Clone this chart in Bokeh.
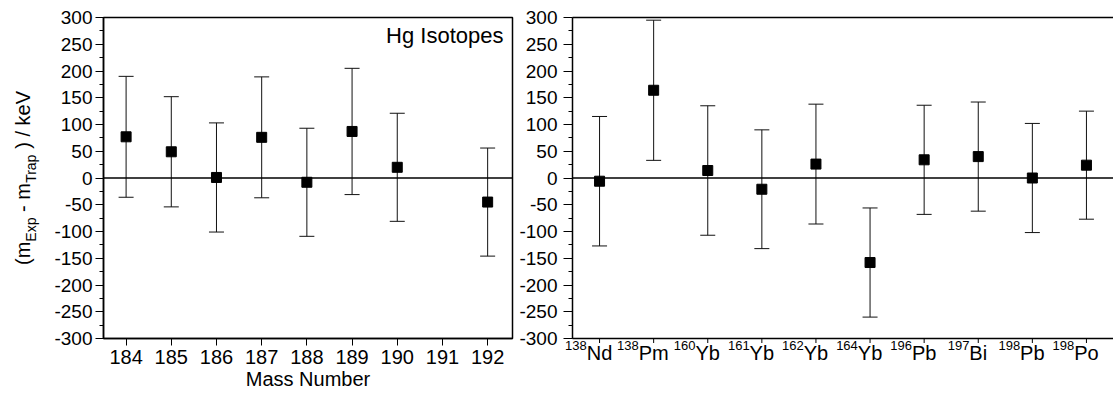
import math
from bokeh.plotting import figure
from bokeh.layouts import row
from bokeh.models import (ColumnDataSource, Whisker, TeeHead, Span, Label,
                          Range1d, LinearAxis, FixedTicker, SingleIntervalTicker)
from bokeh.core.properties import value
from bokeh.embed import file_html
from bokeh.resources import INLINE

# ---------------- data ----------------
# Left panel: Hg isotopes
hg_mass = [184, 185, 186, 187, 188, 189, 190, 192]
hg_delta = [77, 49, 1, 76, -8, 87, 20, -45]
hg_err = [113, 103, 102, 113, 101, 118, 101, 101]
mass_ticks = [184, 185, 186, 187, 188, 189, 190, 191, 192]

# Right panel: other isotopes
iso_mass = ["138", "138", "160", "161", "162", "164", "196", "197", "198", "198"]
iso_symbol = ["Nd", "Pm", "Yb", "Yb", "Yb", "Yb", "Pb", "Bi", "Pb", "Po"]
iso_delta = [-6, 164, 14, -21, 26, -158, 34, 40, 0, 24]
iso_err = [121, 131, 121, 111, 112, 102, 102, 102, 102, 101]

y_min, y_max, y_step = -300, 300, 50
y_ticks = list(range(y_min, y_max + 1, y_step))

y_label_parts = [("(m", False), ("Exp", True), (" - m", False), ("Trap", True), (" ) / keV", False)]
x_label_left = "Mass Number"
panel_title = "Hg Isotopes"

# ---------------- style ----------------
FONT = "Liberation Sans"
YTICK_FS = 19
XTICK_FS = 20
LABEL_FS = 20
SUB_FS = 14
SYM_FS = 20
SUP_FS = 13
W = {' ': 278, '(': 333, ')': 333, '-': 333, '/': 278, 'm': 833, 'E': 667, 'x': 500,
     'p': 556, 'T': 611, 'r': 333, 'a': 556, 'k': 500, 'e': 556, 'V': 667, 'N': 722,
     'd': 556, 'P': 667, 'Y': 667, 'b': 556, 'B': 667, 'i': 222, 'o': 556}


def tw(s, size):
    return sum(W.get(c, 556) for c in s) * size / 1000.0


H = 393
TOP, BOTTOM = 17, 55
FRAME_H = H - TOP - BOTTOM          # 321 px for the -300..300 span
PX_PER_Y = FRAME_H / (y_max - y_min)
YLAB_W = 50
W1 = 516 - YLAB_W
W2 = 1113 - 516


def style_axis(ax, tick_out, minor_out=0, standoff=3, fs=YTICK_FS, tick_in=0, minor_in=0):
    ax.axis_line_color = "black"
    ax.axis_line_width = 1.5
    ax.major_tick_line_color = "black"
    ax.minor_tick_line_color = "black"
    ax.major_tick_line_width = 1
    ax.minor_tick_line_width = 1
    ax.major_tick_in = tick_in
    ax.major_tick_out = tick_out
    ax.minor_tick_in = minor_in
    ax.minor_tick_out = minor_out
    ax.major_label_text_font = FONT
    ax.major_label_text_font_size = f"{fs}px"
    ax.major_label_text_color = "black"
    ax.major_label_standoff = standoff


def set_yticks(ax):
    ax.ticker = SingleIntervalTicker(interval=y_step, num_minor_ticks=2)
    ax.major_label_overrides = {v: str(v) for v in y_ticks}


def add_errorbars(p, xs, ys, errs):
    src = ColumnDataSource(dict(x=xs, y=ys,
                                upper=[v + e for v, e in zip(ys, errs)],
                                lower=[v - e for v, e in zip(ys, errs)]))
    w = Whisker(base="x", upper="upper", lower="lower", source=src,
                line_color="#111111", line_width=1,
                upper_head=TeeHead(size=15, line_color="#111111", line_width=1),
                lower_head=TeeHead(size=15, line_color="#111111", line_width=1))
    p.add_layout(w)
    p.scatter("x", "y", source=src, marker="square", size=10, color="black")


def bare(p):
    p.grid.visible = False
    p.outline_line_color = None
    p.background_fill_color = "white"
    p.border_fill_color = "white"
    p.frame_align = False


# ---------------- y-axis title strip ----------------
ylab = figure(width=YLAB_W, height=H, x_range=Range1d(0, YLAB_W), y_range=Range1d(0, H),
              output_backend="svg", toolbar_location=None, x_axis_location=None,
              y_axis_location=None, min_border=0)
bare(ylab)
px, py, pt, pfs = [], [], [], []
total = sum(tw(t, SUB_FS if sub else LABEL_FS) for t, sub in y_label_parts)
start = (H - TOP - FRAME_H / 2) - total / 2
for t, sub in y_label_parts:
    fs = SUB_FS if sub else LABEL_FS
    lead = len(t) - len(t.lstrip(" "))
    core = t.strip(" ")
    c_start = start + tw(" " * lead, fs)
    px.append((35 - 0.3 * fs) if sub else (28 - 0.3 * fs))
    py.append(c_start + tw(core, fs) / 2)
    pt.append(core)
    pfs.append(f"{fs}px")
    start += tw(t, fs)
ylab.text(x=px, y=py, text=pt, angle=math.pi / 2, text_align="center",
          text_baseline="middle", text_font=value(FONT), text_font_size=pfs,
          text_color="black")

# ---------------- left panel ----------------
p1 = figure(width=W1, height=H, x_range=Range1d(183.5, 192.55), y_range=Range1d(y_min, y_max),
            output_backend="svg", toolbar_location=None,
            min_border_left=103 - YLAB_W, min_border_right=4, min_border_top=TOP,
            min_border_bottom=BOTTOM)
bare(p1)
p1.outline_line_color = "black"
p1.outline_line_width = 1.5

style_axis(p1.yaxis[0], 8, 4, 3)
set_yticks(p1.yaxis[0])
style_axis(p1.xaxis[0], 7, 0, 4, XTICK_FS)
p1.xaxis[0].ticker = FixedTicker(ticks=mass_ticks, minor_ticks=[])
p1.xaxis[0].axis_label = x_label_left
p1.xaxis[0].axis_label_text_font = FONT
p1.xaxis[0].axis_label_text_font_size = f"{LABEL_FS}px"
p1.xaxis[0].axis_label_text_font_style = "normal"
p1.xaxis[0].axis_label_text_color = "black"
p1.xaxis[0].axis_label_standoff = 1

p1.add_layout(Span(location=0, dimension="width", line_color="black", line_width=1.5))
add_errorbars(p1, hg_mass, hg_delta, hg_err)

frame_w1 = W1 - (103 - YLAB_W) - 4
p1.add_layout(Label(x=frame_w1 - 9, y=FRAME_H - 18, x_units="screen", y_units="screen",
                    text=panel_title, text_align="right", text_baseline="alphabetic",
                    text_font=FONT, text_font_size="22px", text_color="black"))

# ---------------- right panel ----------------
n = len(iso_symbol)
pos = list(range(n))
PX_PER_X = 541 / n                 # pixels per category step
EXTRA_L = 9                        # frame starts this many px left of the left axis line
x_lo = pos[0] - 0.5 - EXTRA_L / PX_PER_X
x_hi = pos[-1] + 0.5
y_lo = y_max - (H - TOP) / PX_PER_Y
p2 = figure(width=W2, height=H, x_range=Range1d(x_lo, x_hi), y_range=Range1d(y_lo, y_max),
            output_backend="svg", toolbar_location=None, x_axis_location=None,
            min_border_left=572 - 516 - EXTRA_L, min_border_right=0, min_border_top=TOP,
            min_border_bottom=0)
bare(p2)
yax2 = p2.yaxis[0]
style_axis(yax2, 0, -(EXTRA_L - 4), 6, tick_in=EXTRA_L, minor_in=EXTRA_L)
set_yticks(yax2)
yax2.bounds = (y_min, y_max)
yax2.axis_line_color = None

top_axis = LinearAxis(ticker=FixedTicker(ticks=[], minor_ticks=[]), bounds=(pos[0] - 0.5, x_hi))
style_axis(top_axis, 0, 0, 0)
p2.add_layout(top_axis, "above")

# frame lines (left, bottom) and zero line
x_left = pos[0] - 0.5
p2.segment(x0=[x_left], y0=[y_min], x1=[x_left], y1=[y_max], line_color="black", line_width=1.5)
p2.segment(x0=[x_left, x_left], y0=[y_min, 0], x1=[x_hi, x_hi], y1=[y_min, 0],
           line_color="black", line_width=1.5)
add_errorbars(p2, pos, iso_delta, iso_err)

# bottom ticks and isotope labels
tick_len = 4.5 / PX_PER_Y
tick_src = ColumnDataSource(dict(x=pos, y0=[y_min] * n, y1=[y_min - tick_len] * n))
p2.segment(x0="x", y0="y0", x1="x", y1="y1", source=tick_src, line_color="black", line_width=1)
lab_src = ColumnDataSource(dict(x=pos, sym=iso_symbol, mass=iso_mass,
                                off=[-tw(s, SYM_FS) / 2 for s in iso_symbol]))
p2.text(x="x", y=y_min - 14.9 / PX_PER_Y, text="sym", source=lab_src, text_align="center",
        text_baseline="alphabetic", text_font=value(FONT), text_font_size=f"{SYM_FS}px",
        text_color="black")
p2.text(x="x", y=y_min - 7.1 / PX_PER_Y, text="mass", x_offset="off", source=lab_src,
        text_align="right", text_baseline="alphabetic", text_font=value(FONT),
        text_font_size=f"{SUP_FS}px", text_color="black")

layout = row(ylab, p1, p2, spacing=0)
open("out.html", "w").write(file_html(layout, INLINE))
